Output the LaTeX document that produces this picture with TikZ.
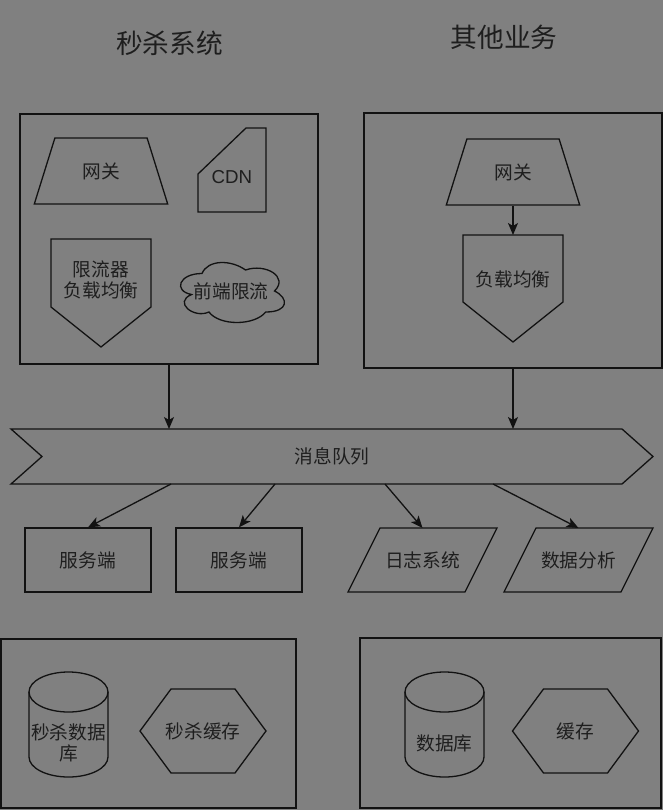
\documentclass[tikz,border=0pt]{standalone}
\usepackage{fontspec}
\setmainfont{Liberation Sans}
\newfontfamily\cjk{Noto Sans CJK SC}
\usetikzlibrary{shapes.geometric,arrows.meta}
\definecolor{bggray}{RGB}{128,128,128}
\definecolor{ink}{RGB}{18,18,18}
\definecolor{txt}{RGB}{30,30,30}
\tikzstyle{group} = [draw, rectangle, inner sep=0pt]
\tikzstyle{box} = [draw, rectangle, minimum width=126pt, minimum height=64pt, inner sep=0pt]
\tikzstyle{gateway} = [draw, trapezium, trapezium stretches=true, trapezium angle=64, minimum width=134pt, minimum height=66pt, inner sep=0pt]
\tikzstyle{holder} = [rectangle, inner sep=0pt, outer sep=0pt, align=center]
\tikzstyle{title} = [font=\cjk\fontsize{26.7}{30}\selectfont]

\begin{document}
\begin{tikzpicture}[x=1pt, y=-1pt, line width=1.3pt, color=ink,
    >={Stealth[length=12pt,width=10pt,inset=3pt]},
    every node/.style={text=txt, font=\cjk\fontsize{18.7}{21}\selectfont}]
    \fill[bggray] (0,0) rectangle (663,810);
    \useasboundingbox (0,0) rectangle (663,810);

    % titles
    \node[title] (t1) at (169.5,43) {秒杀系统};
    \node[title] (t2) at (504,37) {其他业务};

    % seckill system
    \node[group, minimum width=298pt, minimum height=250pt] (sys) at (169,239) {};
    \node[gateway] (gw1) at (101,171) {网关};
    \node[holder, anchor=north, minimum width=68pt, minimum height=98pt, font=\rmfamily\fontsize{18.7}{21}\selectfont] (cdn) at (232,128) {CDN};
    \draw ([yshift=14pt]cdn.south west) -- ([yshift=52pt]cdn.south west) -- ([xshift=48pt]cdn.north west) -- (cdn.north east) -- ([yshift=14pt]cdn.south east) -- cycle;
    \node[holder, minimum width=100pt, minimum height=82pt] (lim) at (101,280) {限流器\\负载均衡};
    \draw (lim.north west) -- (lim.north east) -- ([yshift=14pt]lim.south east) -- ([yshift=-26pt]lim.south) -- ([yshift=14pt]lim.south west) -- cycle;
    \node[holder, minimum width=116pt, minimum height=70pt] (fe) at (231,291) {前端限流};
    \begin{scope}[shift={(fe.north west)}, x=116pt, y=-70pt]
        \draw (0.25,0.25) .. controls (0.05,0.25) and (0,0.5) .. (0.16,0.55)
            .. controls (0,0.66) and (0.18,0.9) .. (0.31,0.8)
            .. controls (0.4,1) and (0.7,1) .. (0.8,0.8)
            .. controls (1,0.8) and (1,0.6) .. (0.875,0.5)
            .. controls (1,0.3) and (0.8,0.1) .. (0.625,0.2)
            .. controls (0.5,0.05) and (0.3,0.05) .. (0.25,0.25) -- cycle;
    \end{scope}

    % other business
    \node[group, minimum width=298pt, minimum height=255pt] (other) at (513,240.5) {};
    \node[gateway] (gw2) at (513,172) {网关};
    \node[holder, minimum width=100pt, minimum height=88pt] (lb) at (513,279) {负载均衡};
    \draw (lb.north west) -- (lb.north east) -- ([yshift=21pt]lb.south east) -- ([yshift=-19pt]lb.south) -- ([yshift=21pt]lb.south west) -- cycle;
    \draw[->] (gw2) -- (lb);

    % message queue
    \node[holder, minimum width=642pt, minimum height=55pt] (mq) at (332,456.5) {消息队列};
    \draw (mq.north west) -- ([xshift=-31pt]mq.north east) -- (mq.east) -- ([xshift=-31pt]mq.south east) -- (mq.south west) -- ([xshift=31pt]mq.west) -- cycle;
    \draw[->] (sys.south) -- (sys.south |- mq.north);
    \draw[->] (other.south) -- (other.south |- mq.north);

    % consumers
    \node[box] (srv1) at (88,560) {服务端};
    \node[box] (srv2) at (239,560) {服务端};
    \node[holder, minimum width=149pt, minimum height=64pt] (log) at (422.5,560) {日志系统};
    \draw ([xshift=32pt]log.north west) -- (log.north east) -- ([xshift=-32pt]log.south east) -- (log.south west) -- cycle;
    \node[holder, minimum width=149pt, minimum height=64pt] (ana) at (578.5,560) {数据分析};
    \draw ([xshift=32pt]ana.north west) -- (ana.north east) -- ([xshift=-32pt]ana.south east) -- (ana.south west) -- cycle;
    \draw[->] ([xshift=-161pt]mq.south) -- (srv1.north);
    \draw[->] ([xshift=-57pt]mq.south) -- (srv2.north);
    \draw[->] ([xshift=53pt]mq.south) -- (log.north);
    \draw[->] ([xshift=161pt]mq.south) -- (ana.north);

    % storage
    \node[group, minimum width=295pt, minimum height=169pt] (sysdata) at (148.5,723.5) {};
    \node[holder, anchor=north, minimum width=79pt, minimum height=142pt] (db1) at (68.5,672) {秒杀数据\\库};
    \draw ([yshift=-20pt]db1.north west) arc[start angle=180, end angle=0, x radius=39.5pt, y radius=20pt] -- ([yshift=-85pt]db1.north east) arc[start angle=0, end angle=-180, x radius=39.5pt, y radius=20pt] -- cycle;
    \draw ([yshift=-20pt]db1.north west) arc[start angle=180, end angle=360, x radius=39.5pt, y radius=20pt];
    \node[holder, minimum width=126pt, minimum height=84pt] (hx1) at (203,731) {秒杀缓存};
    \draw ([xshift=31pt]hx1.north west) -- ([xshift=-31pt]hx1.north east) -- (hx1.east) -- ([xshift=-31pt]hx1.south east) -- ([xshift=31pt]hx1.south west) -- (hx1.west) -- cycle;

    \node[group, minimum width=301pt, minimum height=170pt] (otherdata) at (510.5,723) {};
    \node[holder, anchor=north, minimum width=79pt, minimum height=142pt] (db2) at (444.5,672) {数据库};
    \draw ([yshift=-20pt]db2.north west) arc[start angle=180, end angle=0, x radius=39.5pt, y radius=20pt] -- ([yshift=-85pt]db2.north east) arc[start angle=0, end angle=-180, x radius=39.5pt, y radius=20pt] -- cycle;
    \draw ([yshift=-20pt]db2.north west) arc[start angle=180, end angle=360, x radius=39.5pt, y radius=20pt];
    \node[holder, minimum width=126pt, minimum height=84pt] (hx2) at (575.5,731) {缓存};
    \draw ([xshift=31pt]hx2.north west) -- ([xshift=-31pt]hx2.north east) -- (hx2.east) -- ([xshift=-31pt]hx2.south east) -- ([xshift=31pt]hx2.south west) -- (hx2.west) -- cycle;
\end{tikzpicture}
\end{document}
